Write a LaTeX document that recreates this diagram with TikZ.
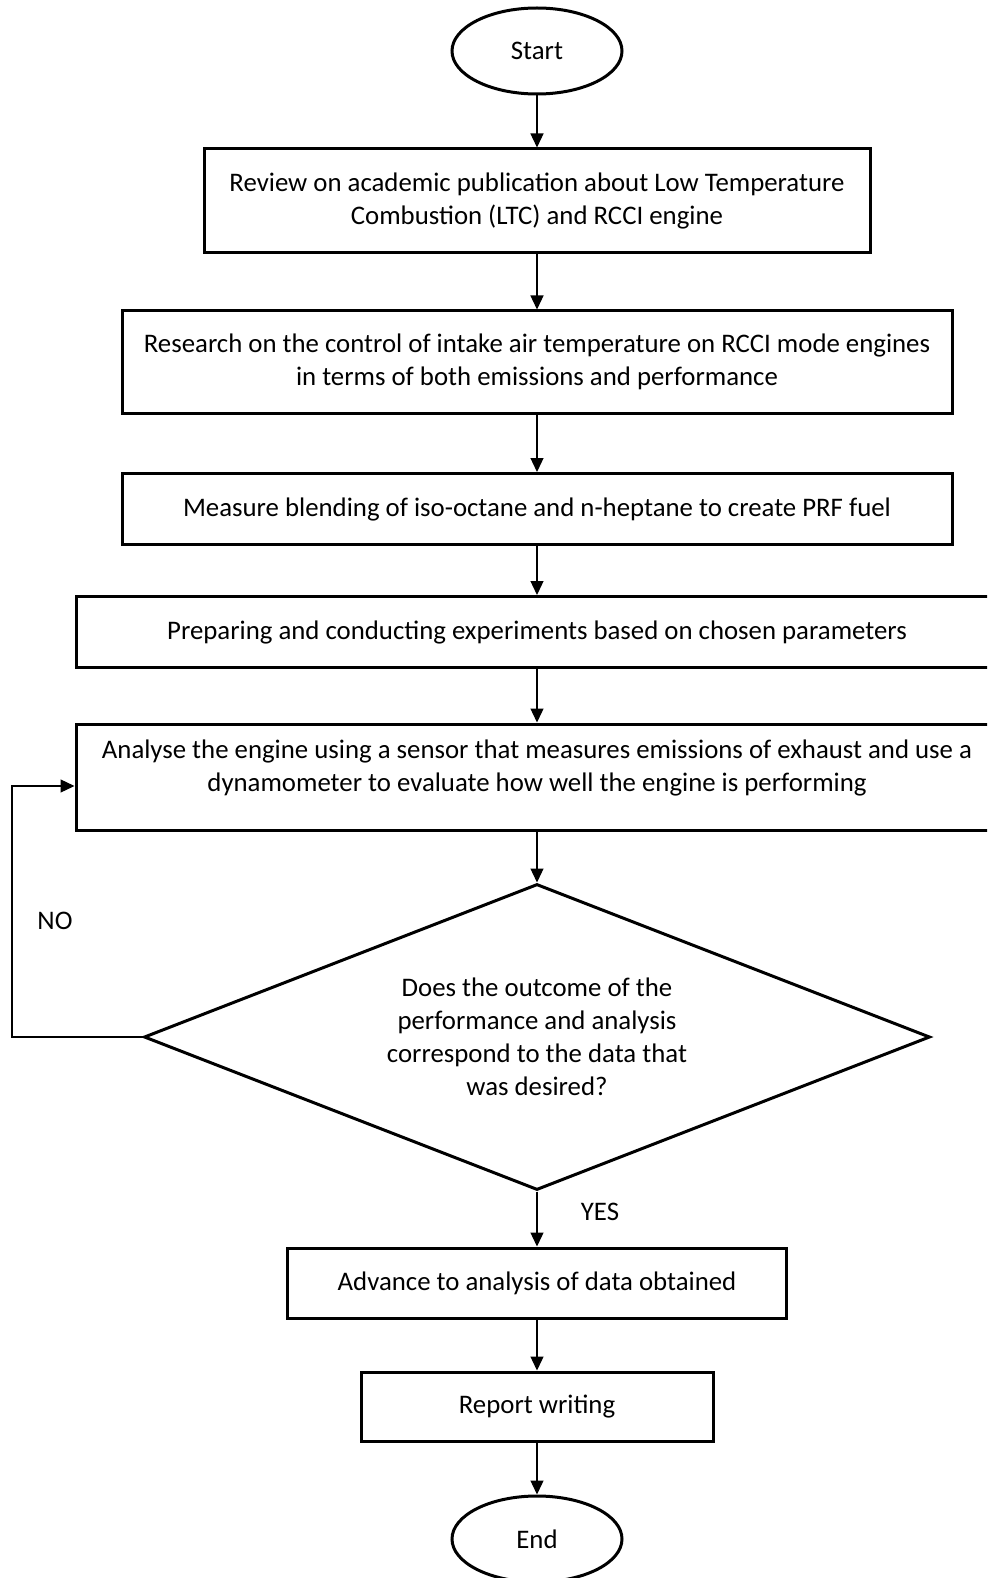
\documentclass[tikz,border=0pt]{standalone}
\usepackage{fontspec}
\setmainfont{Carlito}
\usepackage{tikz}
\usetikzlibrary{shapes.geometric}
\usetikzlibrary{arrows.meta}

\begin{document}
\begin{tikzpicture}[x=1pt, y=-1pt, font=\fontsize{26.8}{33}\selectfont]
    \tikzstyle{process}=[rectangle, draw, line width=3pt, align=center, inner sep=0pt]
    \tikzstyle{terminal}=[ellipse, draw, line width=3pt, minimum width=170, minimum height=86, inner sep=0pt]
    \tikzstyle{flowarrow}=[line width=1.3pt, -{Triangle[width=13pt,length=14pt]}]
    \useasboundingbox (0,0) rectangle (987,1578);
    \clip (0,0) rectangle (987,1578);

    \node[terminal](start) at (537,51){Start};
    \node[process, minimum width=666, minimum height=104](review) at (537,201)
    {Review on academic publication about Low Temperature\\Combustion (LTC) and RCCI engine};
    \node[process, minimum width=830, minimum height=102](research) at (537,362)
    {Research on the control of intake air temperature on RCCI mode engines\\in terms of both emissions and performance};
    \node[process, minimum width=830, minimum height=71](blend) at (537,509)
    {Measure blending of iso-octane and n-heptane to create PRF fuel};
    \node[process, minimum width=922, minimum height=71](prepare) at (537,632)
    {Preparing and conducting experiments based on chosen parameters};
    \node[process, minimum width=922, minimum height=106](analyse) at (537,777)
    {Analyse the engine using a sensor that measures emissions of exhaust and use a\\dynamometer to evaluate how well the engine is performing\rule[-22pt]{0pt}{0pt}};
    \node[diamond, draw, line width=3pt, align=center, aspect=2.56, inner sep=0pt,
    minimum width=786, minimum height=306](check) at (537,1037)
    {Does the outcome of the\\performance and analysis\\correspond to the data that\\was desired?};
    \node[process, minimum width=499, minimum height=70](advance) at (537,1283)
    {Advance to analysis of data obtained};
    \node[process, minimum width=352, minimum height=69](report) at (537,1406.5)
    {Report writing};
    \node[terminal](end) at (537,1539){End};

    \node[](no) at (55,921){NO};
    \node[](yes) at (600,1212){YES};

    \draw[flowarrow] (start) -- (review);
    \draw[flowarrow] (review) -- (research);
    \draw[flowarrow] (research) -- (blend);
    \draw[flowarrow] (blend) -- (prepare);
    \draw[flowarrow] (prepare) -- (analyse);
    \draw[flowarrow] (analyse) -- (check);
    \draw[flowarrow] (check) -- (advance);
    \draw[flowarrow] (advance) -- (report);
    \draw[flowarrow] (report) -- (end);

    \coordinate (back) at (12,786);
    \draw[flowarrow] (check.west) -| (back) -- (back -| analyse.west);
\end{tikzpicture}
\end{document}
